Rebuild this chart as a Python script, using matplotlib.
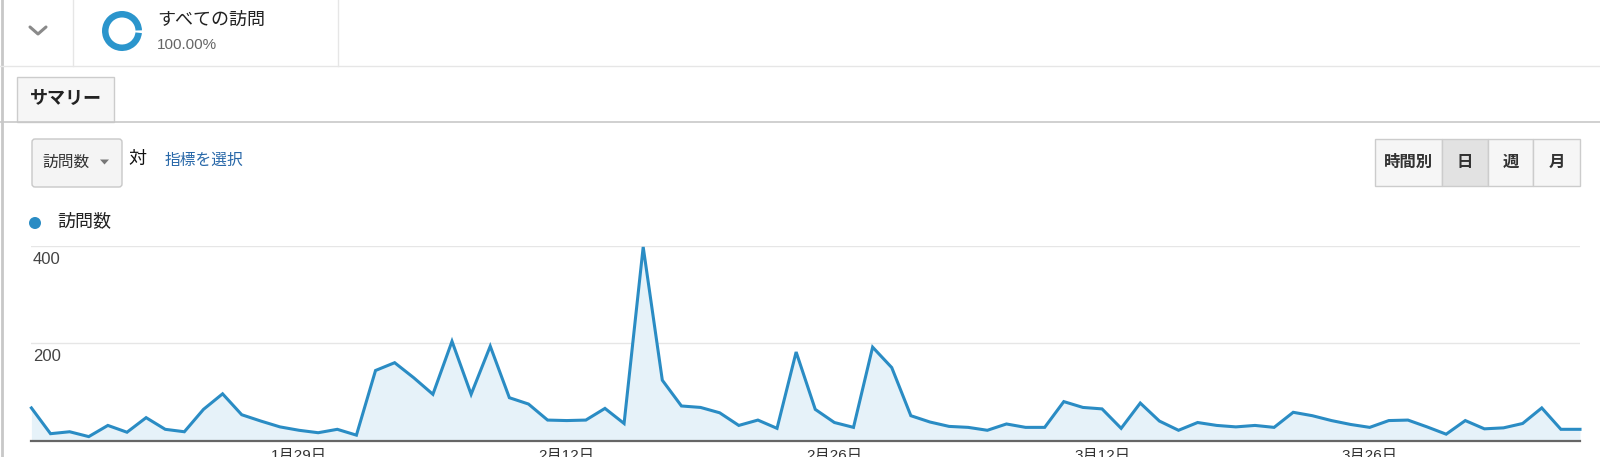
import matplotlib
matplotlib.use('Agg')
import matplotlib.pyplot as plt
import matplotlib.transforms as mtransforms
from matplotlib.patches import Wedge, Rectangle, FancyBboxPatch, Circle, Polygon
import pandas as pd

plt.rcParams['font.family'] = ['Liberation Sans', 'Noto Sans CJK JP', 'DejaVu Sans']

# daily visits, 2013-01-15 .. 2013-04-06
start_date = '2013-01-15'
visits = [67, 14, 18, 8, 31, 17, 47, 23, 18, 64,
          96, 53, 40, 28, 21, 16, 23, 11, 144, 160,
          129, 95, 204, 95, 194, 88, 75, 42, 41, 42,
          66, 35, 398, 124, 71, 68, 57, 31, 42, 25,
          182, 64, 37, 27, 192, 150, 51, 38, 29, 27,
          21, 34, 27, 27, 80, 68, 65, 25, 77, 40,
          21, 37, 31, 28, 31, 27, 58, 51, 41, 33,
          27, 41, 42, 28, 13, 41, 24, 26, 35, 67,
          23, 23]
tick_dates = ['2013-01-29', '2013-02-12', '2013-02-26', '2013-03-12', '2013-03-26']
tick_labels = ['1月29日', '2月12日', '2月26日', '3月12日', '3月26日']
y_ticks = [200, 400]
buttons = ['時間別', '日', '週', '月']

dates = pd.date_range(start_date, periods=len(visits), freq='D')
x = list(range(len(visits)))
tick_pos = [dates.get_loc(pd.Timestamp(d)) for d in tick_dates]

blue = '#2a8cc4'
W, H = 1600, 457
fig = plt.figure(figsize=(W / 100, H / 100), dpi=100)
fig.patch.set_facecolor('white')

# page chrome drawn in pixel coordinates
ui = fig.add_axes([0, 0, 1, 1])
ui.set_xlim(0, W)
ui.set_ylim(H, 0)
ui.axis('off')

ui.plot([1.5, 1.5], [0, H], color='#c8c8c8', lw=2)
ui.plot([0, W], [66, 66], color='#e6e6e6', lw=1)
ui.plot([73, 73], [0, 66], color='#e6e6e6', lw=1)
ui.plot([338, 338], [0, 66], color='#e6e6e6', lw=1)

# chevron
ui.plot([30, 38, 46], [27, 34, 27], color='#8a8a8a', lw=2.2, solid_capstyle='round')

# segment donut
ui.add_patch(Wedge((122, 31), 20, 6, 358, width=6.5, facecolor='#2b95cc', edgecolor='none'))
ui.text(157, 20, 'すべての訪問', fontsize=13, color='#222222', va='center', ha='left')
ui.text(157, 45, '100.00%', fontsize=11, color='#666666', va='center', ha='left')

# tab
ui.plot([0, W], [121.5, 121.5], color='#c8c8c8', lw=1.2)
ui.add_patch(Rectangle((17, 77), 97, 44.5, facecolor='#f6f6f6', edgecolor='#cccccc', lw=1))
ui.text(30, 99, 'サマリー', fontsize=13, fontweight='bold', color='#222222', va='center', ha='left')

# metric dropdown
ui.add_patch(FancyBboxPatch((32, 139), 90, 48, boxstyle='round,pad=0,rounding_size=3',
                            facecolor='#f4f4f4', edgecolor='#c8c8c8', lw=1))
ui.text(42, 162, '訪問数', fontsize=11.3, color='#333333', va='center', ha='left')
ui.add_patch(Polygon([(100, 159.5), (109, 159.5), (104.5, 164.5)], closed=True,
                     facecolor='#777777', edgecolor='none'))
ui.text(128, 159, '対', fontsize=13, color='#111111', va='center', ha='left')
ui.text(165, 160, '指標を選択', fontsize=11.3, color='#2767a8', va='center', ha='left')

# period buttons
edges = [1375, 1442, 1488, 1533, 1580]
for i, lab in enumerate(buttons):
    face = '#e2e2e2' if lab == '日' else '#f6f6f6'
    ui.add_patch(Rectangle((edges[i], 139), edges[i + 1] - edges[i], 47,
                           facecolor=face, edgecolor='#cccccc', lw=1))
    ui.text((edges[i] + edges[i + 1]) / 2, 162.5, lab, fontsize=11.8, fontweight='bold',
            color='#333333', va='center', ha='center')

# legend
ui.add_patch(Circle((35, 223), 6, facecolor=blue, edgecolor='none'))
ui.text(57, 222, '訪問数', fontsize=13, color='#222222', va='center', ha='left')

# chart
x0, x1 = 31.4, 1580
y0, y1 = 440.5, 246
ax = fig.add_axes([x0 / W, (H - y0) / H, (x1 - x0) / W, (y0 - y1) / H])
ax.patch.set_alpha(0)
ax.set_xlim(0, len(visits) - 1)
ax.set_ylim(0, 400)

for v in y_ticks:
    ax.axhline(v, color='#e6e6e6', lw=1, zorder=0)
ax.fill_between(x, visits, 0, color='#e6f2f9', lw=0, zorder=1)
ax.plot(x, visits, color=blue, lw=2.2, zorder=3, clip_on=False, solid_joinstyle='miter')
ax.axhline(0, color='#666666', lw=1.6, zorder=4, clip_on=False)

for sp in ax.spines.values():
    sp.set_visible(False)
ax.set_yticks([])
ax.set_xticks(tick_pos)
ax.set_xticklabels(tick_labels, fontsize=11, color='#333333')
ax.tick_params(axis='x', length=0, pad=6)

lab_tr = mtransforms.offset_copy(ax.get_yaxis_transform(), fig=fig, x=1, y=-4, units='points')
for v in y_ticks:
    ax.text(0, v, str(v), transform=lab_tr, fontsize=12, color='#444444',
            va='top', ha='left')

fig.savefig('out.png', dpi=100, facecolor='white')
